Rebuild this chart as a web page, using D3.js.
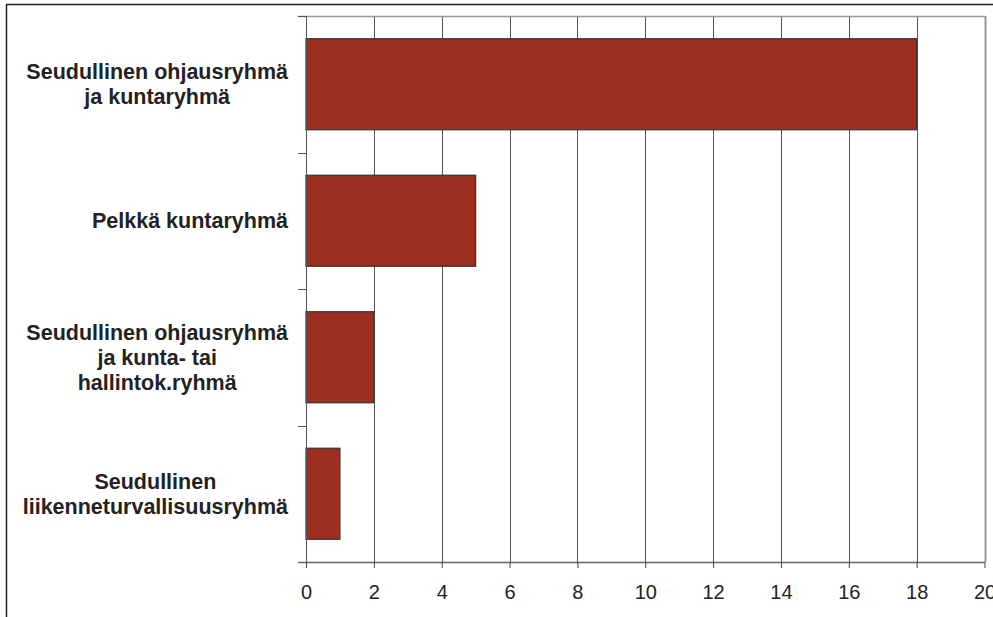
<!DOCTYPE html>
<html>
<head>
<meta charset="utf-8">
<script src="https://cdn.jsdelivr.net/npm/d3@7"></script>
<style>
  body { margin: 0; background: #fff; }
  svg { display: block; font-family: "Liberation Sans", Arial, sans-serif; }
</style>
</head>
<body>
<svg id="chart" width="993" height="617"></svg>
<script>
// data
const categories = [
  ["Seudullinen ohjausryhmä", "ja kuntaryhmä"],
  ["Pelkkä kuntaryhmä"],
  ["Seudullinen ohjausryhmä", "ja kunta- tai", "hallintok.ryhmä"],
  ["Seudullinen", "liikenneturvallisuusryhmä"]
];
const values = [18, 5, 2, 1];
const xTicks = [0, 2, 4, 6, 8, 10, 12, 14, 16, 18, 20];

const svg = d3.select("#chart");
const H = 617;
const plotTop = 16, plotBottom = 562;

// outer frame (cut off at right/bottom)
svg.append("line").attr("x1", 6.5).attr("x2", 993).attr("y1", 4.5).attr("y2", 4.5)
  .attr("stroke", "#222").attr("stroke-width", 1.5);
svg.append("line").attr("x1", 6.5).attr("x2", 6.5).attr("y1", 4).attr("y2", H)
  .attr("stroke", "#222").attr("stroke-width", 1.5);

const x = d3.scaleLinear().domain([0, 20]).range([306, 984.5]);
const yTicks = d3.scaleBand().domain(d3.range(categories.length)).range([plotTop, plotBottom]);
const y = d3.scaleBand().domain(d3.range(categories.length))
  .range([plotTop, plotBottom]).paddingInner(0.333).paddingOuter(0.1665);

// gridlines
svg.append("g").selectAll("line").data(xTicks.slice(1)).join("line")
  .attr("x1", d => Math.round(x(d)) + 0.5).attr("x2", d => Math.round(x(d)) + 0.5)
  .attr("y1", plotTop).attr("y2", plotBottom)
  .attr("stroke", d => d === 20 ? "#999" : "#555")
  .attr("stroke-width", d => d === 20 ? 2 : 1);

// plot top border
svg.append("line").attr("x1", 298).attr("x2", 985.5)
  .attr("y1", plotTop + 0.5).attr("y2", plotTop + 0.5)
  .attr("stroke", "#999").attr("stroke-width", 1.5);

// bars
svg.append("g").selectAll("rect").data(values).join("rect")
  .attr("x", x(0))
  .attr("y", (d, i) => y(i))
  .attr("width", d => x(d) - x(0))
  .attr("height", y.bandwidth())
  .attr("fill", "#9c2f22")
  .attr("stroke", "#333")
  .attr("stroke-width", 1.2);

// y axis
const yAxis = svg.append("g");
yAxis.append("line").attr("x1", 306.5).attr("x2", 306.5).attr("y1", plotTop).attr("y2", plotBottom)
  .attr("stroke", "#555");
const yt = categories.map((c, i) => yTicks(i)).concat([plotBottom]);
yAxis.selectAll(".yt").data(yt).join("line").attr("class", "yt")
  .attr("x1", 298).attr("x2", 306).attr("y1", d => Math.round(d) + 0.5).attr("y2", d => Math.round(d) + 0.5)
  .attr("stroke", "#555");

// x axis
const xAxis = svg.append("g").attr("transform", `translate(0,${plotBottom})`)
  .call(d3.axisBottom(x).tickValues(xTicks).tickSize(6).tickPadding(17).tickFormat(d3.format("d")));
xAxis.select(".domain").attr("stroke", "#666").attr("stroke-width", 1.5).attr("d", "M298,0.5H985");
xAxis.selectAll(".tick line").attr("stroke", "#444");
xAxis.selectAll(".tick text").attr("font-size", 20).attr("fill", "#222")
  .attr("font-family", "Liberation Sans, Arial, sans-serif");

// category labels: block right-aligned at 288, lines centred within the block
const labels = svg.append("g");
const lh = 25;
categories.forEach((lines, i) => {
  const cy = yTicks(i) + yTicks.bandwidth() / 2;
  const t = labels.append("text")
    .attr("text-anchor", "middle")
    .attr("font-size", 21.5).attr("font-weight", "bold").attr("fill", "#222");
  const spans = lines.map((ln, j) => t.append("tspan")
    .attr("y", cy + (j - (lines.length - 1) / 2) * lh + 7.5)
    .text(ln));
  const maxW = d3.max(spans, s => s.node().getComputedTextLength());
  spans.forEach(s => s.attr("x", 288 - maxW / 2));
});
</script>
</body>
</html>
